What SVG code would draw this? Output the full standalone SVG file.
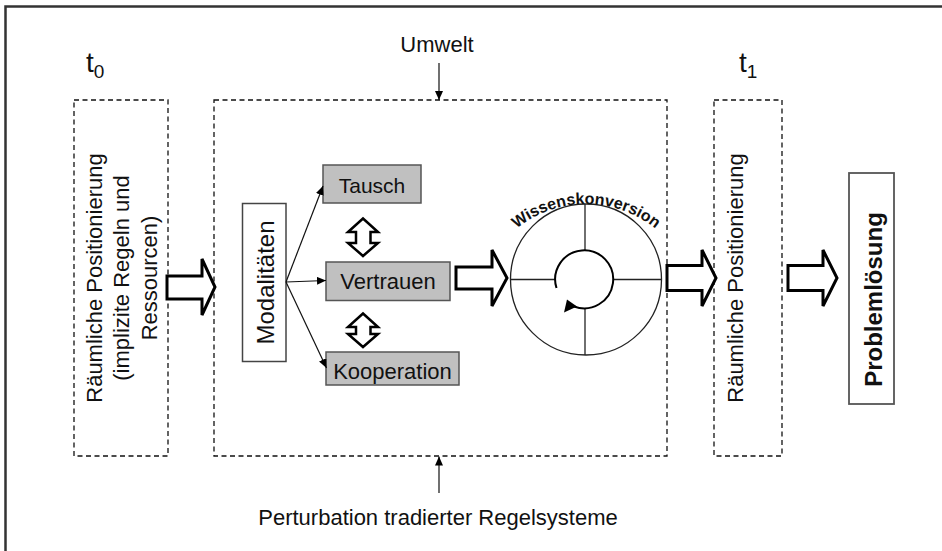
<svg xmlns="http://www.w3.org/2000/svg" xmlns:xlink="http://www.w3.org/1999/xlink" width="942" height="551" viewBox="0 0 942 551">
<style>
  text { font-family: "Liberation Sans", Arial, sans-serif; fill: #111; }
  .dash { fill: none; stroke: #111; stroke-width: 1.3; stroke-dasharray: 5 3.5; }
  .gbox { fill: #c0c0c0; stroke: #555; stroke-width: 1.5; }
  .wbox { fill: #fff; stroke: #444; stroke-width: 1.5; }
  .block { fill: #fff; stroke: #000; stroke-width: 3; stroke-linejoin: miter; }
  .dbl { fill: #fff; stroke: #000; stroke-width: 2.5; stroke-linejoin: miter; }
  .thin { fill: none; stroke: #111; stroke-width: 1.2; }
  .circ { fill: none; stroke: #222; stroke-width: 1.3; }
</style>
<defs>
  <marker id="ah" markerUnits="userSpaceOnUse" markerWidth="9" markerHeight="8" refX="9" refY="4" orient="auto">
    <path d="M0,0 L9,4 L0,8 z" fill="#000"/>
  </marker>
  <path id="arcText" d="M 476 314 A 110 110 0 0 1 696 314"/>
</defs>
<rect width="942" height="551" fill="#fff"/>
<rect x="5.5" y="6.5" width="1000" height="600" fill="none" stroke="#333" stroke-width="2.5"/>

<g id="t0"><text x="86" y="72" font-size="28">t<tspan font-size="19" dy="5.5">0</tspan></text></g>
<g id="t1"><text x="739" y="72" font-size="28">t<tspan font-size="19" dy="5.5">1</tspan></text></g>

<g id="umwelt"><text x="437" y="52" font-size="22" text-anchor="middle">Umwelt</text></g>
<g id="perturbation"><text x="438" y="525" font-size="22" text-anchor="middle">Perturbation tradierter Regelsysteme</text></g>

<g id="left-box">
  <rect class="dash" x="74" y="100" width="94" height="356"/>
  <g font-size="22" text-anchor="middle">
    <text transform="translate(101.7,278) rotate(-90)">Räumliche Positionierung</text>
    <text transform="translate(129.2,278) rotate(-90)">(implizite Regeln und</text>
    <text transform="translate(156.7,278) rotate(-90)">Ressourcen)</text>
  </g>
</g>

<g id="middle-box"><rect class="dash" x="214" y="100" width="453" height="356"/></g>

<g id="right-box">
  <rect class="dash" x="714" y="100" width="68" height="356"/>
  <text transform="translate(743,278) rotate(-90)" font-size="22" text-anchor="middle">Räumliche Positionierung</text>
</g>

<g id="modalitaeten">
  <rect class="wbox" x="242.5" y="203.5" width="43.5" height="158"/>
  <text transform="translate(273.5,282.5) rotate(-90)" font-size="24" text-anchor="middle">Modalitäten</text>
</g>

<g id="tausch">
  <rect class="gbox" x="323" y="165" width="98" height="38"/>
  <text x="372" y="192.5" font-size="21" text-anchor="middle">Tausch</text>
</g>
<g id="vertrauen">
  <rect class="gbox" x="326" y="262" width="124" height="38.5"/>
  <text x="388" y="289" font-size="22" text-anchor="middle">Vertrauen</text>
</g>
<g id="kooperation">
  <rect class="gbox" x="326" y="352" width="133" height="33"/>
  <text x="392.5" y="378.5" font-size="22" text-anchor="middle">Kooperation</text>
</g>

<g id="problemloesung">
  <rect x="849" y="173" width="45" height="231" fill="#fff" stroke="#555" stroke-width="1.8"/>
  <text transform="translate(881.5,299.5) rotate(-90)" font-size="24" font-weight="bold" text-anchor="middle">Problemlösung</text>
</g>

<g id="wissenskonversion">
  <circle class="circ" cx="586" cy="279.5" r="75.5"/>
  <line class="circ" x1="510.5" y1="279.5" x2="555.5" y2="279.5"/>
  <line class="circ" x1="613.5" y1="279.5" x2="661.5" y2="279.5"/>
  <line class="circ" x1="585" y1="204" x2="585" y2="250.5"/>
  <line class="circ" x1="585" y1="308.5" x2="585" y2="355"/>
  <path d="M 556.5 288 A 29 29 0 1 1 574 306.5" fill="none" stroke="#000" stroke-width="2"/>
  <polygon points="567,299.5 577,306.5 564,312.5" fill="#000"/>
  <text font-size="16" font-weight="bold"><textPath xlink:href="#arcText" href="#arcText" startOffset="50%" text-anchor="middle">Wissenskonversion</textPath></text>
</g>

<g id="connectors">
  <line class="thin" x1="439" y1="63" x2="439" y2="100" marker-end="url(#ah)"/>
  <line class="thin" x1="439" y1="493" x2="439" y2="456.5" marker-end="url(#ah)"/>
  <line class="thin" x1="286" y1="282" x2="323" y2="186" marker-end="url(#ah)"/>
  <line class="thin" x1="286" y1="282" x2="326" y2="280.5" marker-end="url(#ah)"/>
  <line class="thin" x1="286" y1="282" x2="326.5" y2="368" marker-end="url(#ah)"/>
  <polygon class="block" points="167,276 202,276 202,259 215,287 202,315 202,299 167,299"/>
  <polygon class="block" points="456,267 492,267 492,250 507,278 492,306 492,289 456,289"/>
  <polygon class="block" points="667,265.5 702,265.5 702,250 716,278 702,306 702,290.5 667,290.5"/>
  <polygon class="block" points="788,265.5 823,265.5 823,250 837,278 823,306 823,290.5 788,290.5"/>
  <polygon class="dbl" points="363,218.5 378,232 370.5,232 370.5,243 378,243 363,256 348,243 356,243 356,232 348,232"/>
  <polygon class="dbl" points="363,313.5 378,327 370.5,327 370.5,334 378,334 363,347 348,334 356,334 356,327 348,327"/>
</g>
</svg>
